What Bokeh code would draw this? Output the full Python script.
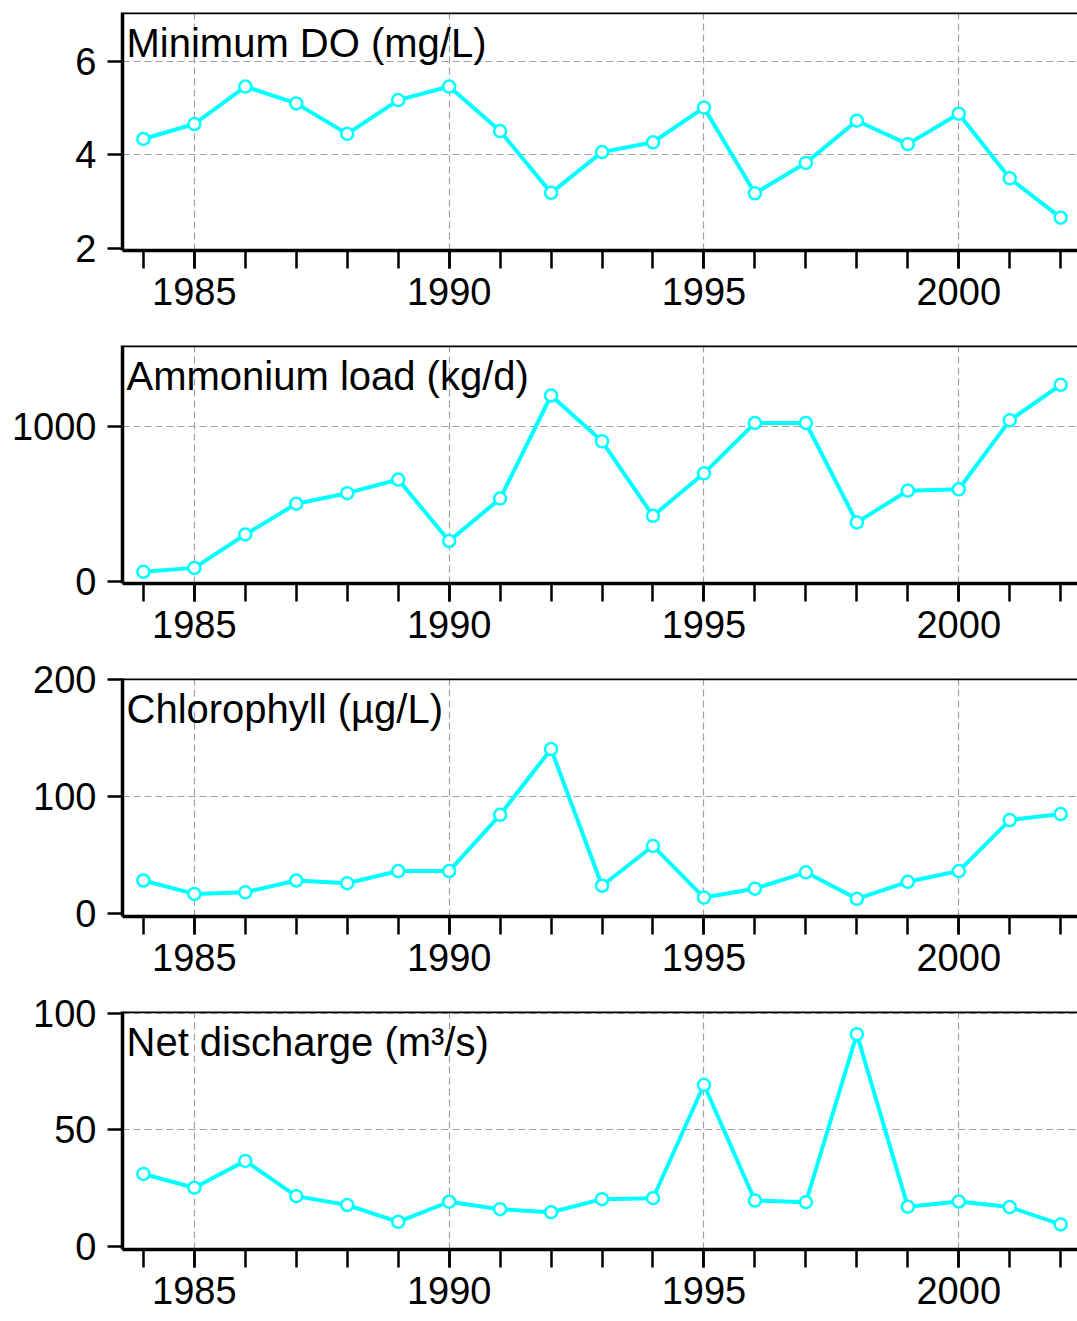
from bokeh.plotting import figure
from bokeh.layouts import column
from bokeh.models import FixedTicker, Label, Span, Range1d
from bokeh.embed import file_html
from bokeh.resources import INLINE

years = list(range(1984, 2003))
min_do = [4.34, 4.66, 5.46, 5.10, 4.45, 5.17, 5.46, 4.51, 3.19, 4.06, 4.27, 5.01, 3.18, 3.83, 4.73, 4.23, 4.88, 3.50, 2.66]
ammonium = [63, 88, 303, 501, 569, 657, 261, 534, 1198, 903, 423, 697, 1021, 1021, 381, 585, 594, 1038, 1267]
chlorophyll = [28.0, 16.5, 17.9, 28.0, 25.7, 36.1, 36.1, 84.3, 140.6, 23.5, 57.6, 13.4, 21.0, 35.0, 12.3, 26.9, 36.1, 79.8, 84.9]
discharge = [31.1, 25.2, 36.7, 21.6, 17.8, 10.6, 19.2, 16.0, 14.7, 20.3, 20.7, 69.3, 19.7, 19.0, 91.0, 17.1, 19.3, 16.9, 9.5]

titles = ["Minimum DO (mg/L)", "Ammonium load (kg/d)", "Chlorophyll (\u00b5g/L)", "Net discharge (m\u00b3/s)"]
series = [min_do, ammonium, chlorophyll, discharge]
y_ranges = [(1.96, 7.04), (-12.6, 1520), (-2.85, 201.1), (-1.26, 100.7)]
y_ticks = [[2, 4, 6], [0, 1000], [0, 100, 200], [0, 50, 100]]
x_major = [1985, 1990, 1995, 2000]

FONT = "Liberation Sans"
FS = "38px"
TFS = "40px"
CYAN = "#00FFFF"
X0, X1 = 1983.59, 2002.33

FRAME_H = 238
BOTTOM = 71

figs = []
for i, (title, vals, yr, yt) in enumerate(zip(titles, series, y_ranges, y_ticks)):
    top = 12 if i == 0 else 24
    p = figure(width=1077, height=top + FRAME_H + BOTTOM, output_backend="svg", toolbar_location=None,
               x_range=Range1d(X0, X1), y_range=Range1d(*yr),
               min_border_left=122, min_border_right=0, min_border_top=top,
               min_border_bottom=BOTTOM)
    p.outline_line_color = None
    p.background_fill_color = "white"
    p.border_fill_color = "white"

    # x axis
    xa = p.xaxis[0]
    xa.ticker = FixedTicker(ticks=x_major, minor_ticks=years)
    xa.axis_line_width = 3.5
    xa.axis_line_color = "black"
    xa.major_tick_out = 18
    xa.major_tick_in = 0
    xa.minor_tick_out = 18
    xa.minor_tick_in = 0
    xa.major_tick_line_width = 2.5
    xa.minor_tick_line_width = 2.5
    xa.minor_tick_line_color = "black"
    xa.major_label_standoff = 9
    xa.major_label_text_font = FONT
    xa.major_label_text_font_size = FS
    xa.major_label_text_color = "black"

    # y axis
    ya = p.yaxis[0]
    ya.ticker = FixedTicker(ticks=yt)
    ya.axis_line_width = 3.5
    ya.axis_line_color = "black"
    ya.major_tick_out = 15
    ya.major_tick_in = 0
    ya.minor_tick_out = 0
    ya.minor_tick_in = 0
    ya.major_tick_line_width = 2.5
    ya.major_label_standoff = 11
    ya.major_label_text_font = FONT
    ya.major_label_text_font_size = FS
    ya.major_label_text_color = "black"

    # grids
    p.xgrid.ticker = FixedTicker(ticks=x_major)
    p.ygrid.ticker = FixedTicker(ticks=yt[1:])
    for g in (p.xgrid[0], p.ygrid[0]):
        g.grid_line_color = "#a0a0a0"
        g.grid_line_dash = "7 4"
        g.grid_line_width = 1.2

    # top border
    p.add_layout(Span(location=yr[1], dimension="width", line_color="black", line_width=3.5))

    p.line(years, vals, line_color=CYAN, line_width=4)
    p.scatter(years, vals, marker="circle", size=12, fill_color="white",
              line_color=CYAN, line_width=2.5)

    p.add_layout(Label(x=X0, y=yr[1], x_offset=4, y_offset=-30, text=title,
                       text_font=FONT, text_font_size=TFS, text_color="black",
                       text_baseline="alphabetic", text_align="left"))
    figs.append(p)

layout = column(*figs, spacing=0)
open("out.html", "w").write(file_html(layout, INLINE))
